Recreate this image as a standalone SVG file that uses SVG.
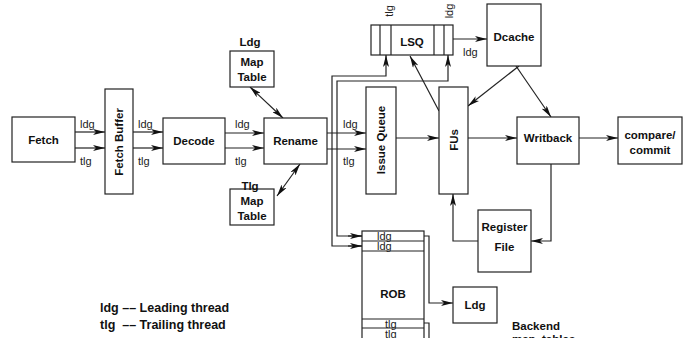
<svg xmlns="http://www.w3.org/2000/svg" width="687" height="338" viewBox="0 0 687 338">
<style>
.box{fill:#fff;stroke:#222;stroke-width:1.2}
.ln{fill:none;stroke:#222;stroke-width:1.2}
.b{font-family:"Liberation Sans",Arial,sans-serif;font-weight:bold;font-size:11.5px;fill:#111}
.n{font-family:"Liberation Sans",Arial,sans-serif;font-size:11px;fill:#222}
.lg{font-family:"Liberation Sans",Arial,sans-serif;font-weight:bold;font-size:12.5px;fill:#111}
</style>
<defs>
<marker id="ah" viewBox="0 0 12 6" refX="12" refY="3" markerWidth="12" markerHeight="6" markerUnits="userSpaceOnUse" orient="auto-start-reverse">
<path d="M0,0 L12,3 L0,6 L3,3 z" fill="#111"/>
</marker>
</defs>
<rect width="687" height="338" fill="#fff"/>

<g id="connectors">
<line class="ln" x1="75" y1="132" x2="105" y2="132" marker-end="url(#ah)"/>
<line class="ln" x1="75" y1="148" x2="105" y2="148" marker-end="url(#ah)"/>
<line class="ln" x1="133" y1="132" x2="163" y2="132" marker-end="url(#ah)"/>
<line class="ln" x1="133" y1="148" x2="163" y2="148" marker-end="url(#ah)"/>
<line class="ln" x1="225" y1="133" x2="264" y2="133" marker-end="url(#ah)"/>
<line class="ln" x1="225" y1="148" x2="264" y2="148" marker-end="url(#ah)"/>
<line class="ln" x1="250" y1="87" x2="283" y2="118" marker-start="url(#ah)" marker-end="url(#ah)"/>
<line class="ln" x1="300" y1="164" x2="277" y2="196" marker-start="url(#ah)" marker-end="url(#ah)"/>
<line class="ln" x1="327" y1="133" x2="366" y2="133" marker-end="url(#ah)"/>
<line class="ln" x1="327" y1="149" x2="366" y2="149" marker-end="url(#ah)"/>
<polyline class="ln" points="362,246 332,246 332,76 386,76 386,55" marker-end="url(#ah)"/>
<polyline class="ln" points="362,236 337,236 337,81 448,81 448,55" marker-end="url(#ah)"/>
<line class="ln" x1="362" y1="246" x2="348" y2="246" marker-start="url(#ah)"/>
<line class="ln" x1="362" y1="236" x2="348" y2="236" marker-start="url(#ah)"/>
<line class="ln" x1="453" y1="39" x2="487" y2="39" marker-end="url(#ah)"/>
<line class="ln" x1="439" y1="111" x2="410" y2="56" marker-end="url(#ah)"/>
<line class="ln" x1="519" y1="66" x2="468" y2="106" marker-end="url(#ah)"/>
<line class="ln" x1="516" y1="66" x2="551" y2="117" marker-end="url(#ah)"/>
<line class="ln" x1="396" y1="138" x2="439" y2="138" marker-end="url(#ah)"/>
<line class="ln" x1="468" y1="138" x2="517" y2="138" marker-end="url(#ah)"/>
<line class="ln" x1="579" y1="138" x2="618" y2="138" marker-end="url(#ah)"/>
<polyline class="ln" points="551,164 551,241 531,241" marker-end="url(#ah)"/>
<polyline class="ln" points="478,241 453,241 453,194" marker-end="url(#ah)"/>
<polyline class="ln" points="424,236 429,236 429,303 453,303" marker-end="url(#ah)"/>
<polyline class="ln" points="424,323 429,323 429,345"/>
</g>

<g id="fetch">
<rect class="box" x="12" y="117" width="63" height="45"/>
<text class="b" x="43.5" y="144" text-anchor="middle">Fetch</text>
</g>
<g id="fetch-labels">
<text class="n" x="80" y="128">ldg</text>
<text class="n" x="80" y="165">tlg</text>
<text class="n" x="138" y="128">ldg</text>
<text class="n" x="138" y="165">tlg</text>
<text class="n" x="235" y="128">ldg</text>
<text class="n" x="235" y="165">tlg</text>
<text class="n" x="343" y="128">ldg</text>
<text class="n" x="343" y="165">tlg</text>
</g>
<g id="fetch-buffer">
<rect class="box" x="105" y="89" width="28" height="105"/>
<text class="b" transform="translate(123,142) rotate(-90)" text-anchor="middle">Fetch Buffer</text>
</g>
<g id="decode">
<rect class="box" x="163" y="118" width="62" height="46"/>
<text class="b" x="194" y="145" text-anchor="middle">Decode</text>
</g>
<g id="rename">
<rect class="box" x="264" y="118" width="63" height="46"/>
<text class="b" x="295.5" y="145" text-anchor="middle">Rename</text>
</g>
<g id="ldg-map">
<text class="b" x="250" y="46" text-anchor="middle">Ldg</text>
<rect class="box" x="230" y="51" width="44" height="36"/>
<text class="b" x="252" y="66" text-anchor="middle">Map</text>
<text class="b" x="252" y="81" text-anchor="middle">Table</text>
</g>
<g id="tlg-map">
<rect class="box" x="230" y="189" width="44" height="36"/>
<text class="b" x="250" y="190" text-anchor="middle">Tlg</text>
<text class="b" x="252" y="205" text-anchor="middle">Map</text>
<text class="b" x="252" y="220" text-anchor="middle">Table</text>
</g>
<g id="issue-queue">
<rect class="box" x="366" y="87" width="30" height="107"/>
<text class="b" transform="translate(385,140) rotate(-90)" text-anchor="middle">Issue Queue</text>
</g>
<g id="lsq">
<rect class="box" x="371" y="25" width="82" height="30"/>
<line class="ln" x1="380" y1="25" x2="380" y2="55"/>
<line class="ln" x1="391" y1="25" x2="391" y2="55"/>
<line class="ln" x1="434" y1="25" x2="434" y2="55"/>
<line class="ln" x1="444" y1="25" x2="444" y2="55"/>
<text class="b" x="412" y="46" text-anchor="middle">LSQ</text>
<text class="n" transform="translate(393,11) rotate(-90)" text-anchor="middle">tlg</text>
<text class="n" transform="translate(453,11) rotate(-90)" text-anchor="middle">ldg</text>
<text class="n" x="463" y="56">ldg</text>
</g>
<g id="dcache">
<rect class="box" x="487" y="4" width="54" height="62"/>
<text class="b" x="514" y="41" text-anchor="middle">Dcache</text>
</g>
<g id="fus">
<rect class="box" x="439" y="87" width="29" height="107"/>
<text class="b" transform="translate(457.5,140) rotate(-90)" text-anchor="middle">FUs</text>
</g>
<g id="writback">
<rect class="box" x="517" y="117" width="62" height="47"/>
<text class="b" x="548" y="142" text-anchor="middle">Writback</text>
</g>
<g id="compare-commit">
<rect class="box" x="618" y="117" width="64" height="47"/>
<text class="b" x="650" y="139" text-anchor="middle">compare/</text>
<text class="b" x="650" y="154" text-anchor="middle">commit</text>
</g>
<g id="register-file">
<rect class="box" x="478" y="210" width="53" height="62"/>
<text class="b" x="504.5" y="231" text-anchor="middle">Register</text>
<text class="b" x="504.5" y="251" text-anchor="middle">File</text>
</g>
<g id="rob">
<rect class="box" x="362" y="231" width="62" height="120"/>
<line class="ln" x1="362" y1="241" x2="424" y2="241"/>
<line class="ln" x1="362" y1="251" x2="424" y2="251"/>
<line class="ln" x1="362" y1="319" x2="424" y2="319"/>
<line class="ln" x1="362" y1="328" x2="424" y2="328"/>
<text class="n" x="377" y="240">ldg</text>
<text class="n" x="377" y="250">ldg</text>
<text class="b" x="393" y="298" text-anchor="middle">ROB</text>
<text class="n" x="385" y="328">tlg</text>
<text class="n" x="385" y="338">tlg</text>
</g>
<g id="ldg-backend">
<rect class="box" x="453" y="287" width="44" height="36"/>
<text class="b" x="475" y="309" text-anchor="middle">Ldg</text>
</g>
<g id="backend-label">
<text class="b" x="512" y="330">Backend</text>
<text class="b" x="512" y="343">map&#160; tables</text>
</g>
<g id="legend">
<text class="lg" x="100" y="312">ldg –– Leading thread</text>
<text class="lg" x="100" y="329">tlg&#160; –– Trailing thread</text>
</g>
</svg>
